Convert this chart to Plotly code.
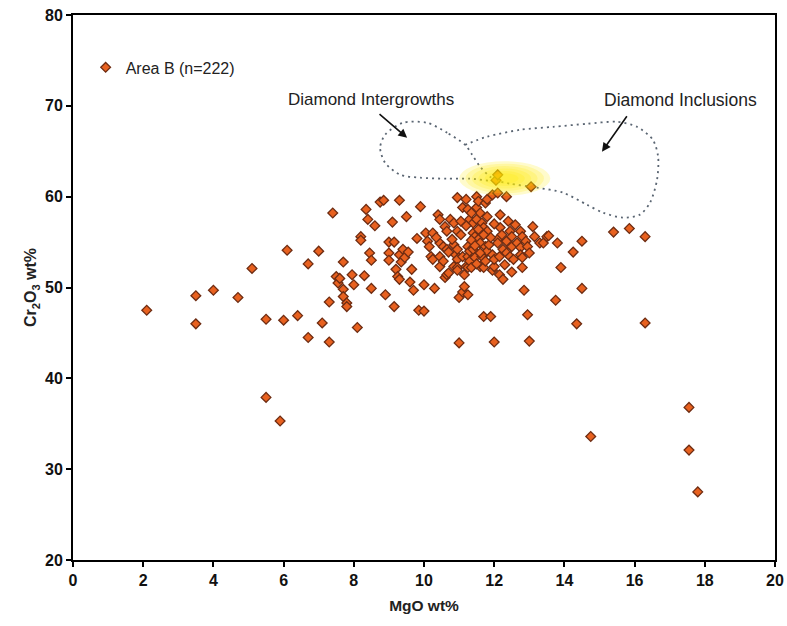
import plotly.graph_objects as go

# ---- Area B spinel analyses (MgO wt%, Cr2O3 wt%) ----
mgo = [
    2.1, 3.5, 3.5, 4.0, 4.7, 5.1, 5.5, 6.0, 6.1, 6.4,
    5.5, 5.9, 6.7, 6.7, 7.0, 7.1, 7.3, 7.3, 7.4, 7.5,
    7.55, 7.6, 7.7, 7.7, 7.7, 7.8, 7.8, 7.95, 8.0, 8.1,
    8.2, 8.2, 8.3, 8.35, 8.4, 8.45, 8.5, 8.5, 8.6, 8.75,
    8.85, 8.9, 9.0, 9.0, 9.0, 9.1, 9.15, 9.15, 9.2, 9.25,
    9.3, 9.3, 9.3, 9.35, 9.4, 9.45, 9.5, 9.55, 9.65, 9.7,
    9.85, 9.9, 10.0, 10.0, 10.05, 10.1, 10.15, 10.2, 10.25, 10.25,
    10.3, 10.4, 10.45, 10.45, 10.45, 10.45, 10.55, 10.55, 10.6, 10.6,
    10.65, 10.65, 10.65, 10.7, 10.75, 10.85, 10.85, 10.85, 10.9, 10.95,
    10.95, 10.95, 10.95, 10.95, 10.95, 11.0, 11.0, 11.05, 11.1, 11.1,
    11.1, 11.15, 11.2, 11.2, 11.25, 11.25, 11.25, 11.25, 11.25, 11.3,
    11.3, 11.3, 11.35, 11.4, 11.4, 11.4, 11.45, 11.45, 11.5, 11.5,
    11.5, 11.55, 11.55, 11.6, 11.6, 11.6, 11.65, 11.65, 11.7, 11.7,
    11.7, 11.75, 11.75, 11.75, 11.8, 11.8, 11.8, 11.85, 11.9, 11.95,
    11.95, 11.95, 12.0, 12.0, 12.0, 12.05, 12.1, 12.1, 12.1, 12.1,
    12.15, 12.15, 12.17, 12.17, 12.22, 12.25, 12.25, 12.35, 12.35, 12.35,
    12.45, 12.45, 12.5, 12.5, 12.5, 12.55, 12.65, 12.75, 12.75, 12.75,
    12.8, 12.8, 12.8, 12.85, 12.9, 12.95, 12.95, 13.0, 13.05, 13.1,
    13.15, 13.3, 13.4, 13.5, 13.55, 13.75, 13.8, 13.9, 14.25, 14.35,
    14.5, 14.5, 14.75, 15.4, 15.85, 16.3, 16.3, 17.55, 17.55, 17.8,
    11.35, 11.55, 11.2, 11.6, 11.9, 11.45, 11.05, 11.7, 10.8, 11.35,
    12.0, 11.5, 12.6, 10.35, 9.8, 12.3, 11.8, 13.0, 10.7, 11.15, 9.6, 12.4,
]
cr2o3 = [
    47.5, 49.1, 46.0, 49.7, 48.9, 52.1, 46.5, 46.4, 54.1, 46.9,
    37.9, 35.3, 44.5, 52.6, 54.0, 46.1, 44.0, 48.4, 58.2, 51.2,
    50.5, 51.0, 52.8, 49.8, 49.0, 48.3, 47.9, 51.4, 50.3, 45.6,
    55.6, 55.2, 51.3, 58.6, 57.5, 53.8, 53.0, 49.9, 56.8, 59.4,
    59.6, 49.2, 55.0, 53.8, 53.0, 57.2, 55.0, 47.9, 52.0, 51.2,
    59.6, 53.6, 50.9, 52.8, 54.2, 53.3, 57.8, 53.9, 52.0, 49.7,
    47.5, 58.9, 47.4, 50.3, 56.0, 55.1, 54.5, 53.4, 53.1, 56.0,
    49.9, 58.0, 57.5, 54.9, 53.4, 52.3, 54.5, 52.9, 56.7, 51.1,
    51.4, 56.2, 54.2, 51.6, 57.5, 57.1, 54.7, 52.3, 53.6, 59.9,
    56.2, 54.2, 53.1, 52.2, 51.9, 48.9, 43.9, 55.8, 53.4, 58.8,
    49.5, 50.1, 59.7, 52.3, 58.6, 54.5, 53.4, 52.2, 49.2, 57.5,
    54.0, 52.9, 52.2, 57.1, 56.0, 54.2, 55.6, 53.3, 60.0, 58.8,
    57.5, 59.5, 55.3, 58.2, 54.9, 52.3, 57.1, 53.4, 56.6, 52.2,
    46.8, 59.3, 54.5, 52.9, 59.7, 56.2, 54.0, 54.7, 46.8, 60.2,
    53.6, 51.9, 44.0, 52.3, 53.1, 61.8, 60.4, 55.3, 62.4, 54.9,
    51.4, 53.4, 58.0, 56.6, 55.8, 54.2, 50.9, 60.0, 55.1, 53.8,
    56.2, 53.4, 55.6, 54.5, 51.7, 53.1, 54.9, 56.2, 54.4, 53.6,
    55.6, 52.2, 53.3, 49.7, 55.1, 54.5, 47.0, 44.1, 61.1, 56.7,
    55.6, 54.9, 54.9, 55.6, 55.7, 48.6, 54.9, 52.2, 53.9, 46.0,
    55.1, 49.9, 33.6, 56.1, 56.5, 55.6, 46.1, 36.8, 32.1, 27.5,
    55.2, 56.4, 56.8, 53.8, 55.5, 54.6, 57.3, 55.8, 55.3, 58.2,
    57.0, 52.6, 56.9, 55.5, 55.4, 52.5, 57.8, 53.8, 53.9, 51.4, 50.6, 57.3,
]

# ---- Reference field outlines ----
intergrowth_mgo = [11.17, 10.66, 10.09, 9.40, 8.89, 8.75, 8.89, 9.32, 9.89, 10.66,
                   11.31, 12.17, 11.88, 11.60, 11.37, 11.17]
intergrowth_cr = [65.71, 67.03, 68.13, 68.13, 66.81, 65.38, 63.74, 62.42, 62.09, 61.98,
                  61.98, 61.65, 62.20, 63.30, 64.62, 65.71]
inclusion_mgo = [11.17, 11.79, 12.74, 13.68, 14.64, 15.50, 16.07, 16.52, 16.67, 16.64,
                 16.44, 16.15, 15.67, 15.10, 14.64, 13.96, 13.22, 12.45, 12.17]
inclusion_cr = [65.71, 66.59, 67.36, 67.69, 68.02, 68.24, 67.69, 66.26, 64.40, 61.87,
                59.34, 58.02, 57.69, 58.24, 59.12, 60.44, 60.99, 61.43, 61.65]

x_ticks = [0, 2, 4, 6, 8, 10, 12, 14, 16, 18, 20]
y_ticks = [20, 30, 40, 50, 60, 70, 80]

FONT = "Arial, 'Liberation Sans', sans-serif"
OUTLINE = "#5a6572"
TEXT = "#222222"

fig = go.Figure()

for xs, ys in ((intergrowth_mgo, intergrowth_cr), (inclusion_mgo, inclusion_cr)):
    fig.add_trace(go.Scatter(
        x=xs, y=ys, mode="lines", showlegend=False, hoverinfo="skip",
        line=dict(color=OUTLINE, width=1.8, dash="2px,4px", shape="spline", smoothing=0.8),
    ))

fig.add_trace(go.Scatter(
    x=mgo, y=cr2o3, mode="markers", name="Area B (n=222)",
    marker=dict(symbol="diamond", size=7.5, color="#e8611f",
                line=dict(color="#6e2c12", width=1.3)),
))

# yellow glow around the high-Cr points
cx, cy, rx, ry = 12.3, 62.0, 1.3, 1.9
for k in (1.0, 0.86, 0.72, 0.58, 0.44, 0.3):
    fig.add_shape(type="circle", xref="x", yref="y",
                  x0=cx - rx * k, x1=cx + rx * k, y0=cy - ry * k, y1=cy + ry * k,
                  line=dict(width=0), fillcolor="rgba(255,236,0,0.2)", layer="above")

# labels and arrows for the reference fields
fig.add_annotation(x=8.49, y=70.66, text="Diamond Intergrowths", showarrow=False,
                   font=dict(family=FONT, size=17, color=TEXT))
fig.add_annotation(x=17.32, y=70.66, text="Diamond Inclusions", showarrow=False,
                   font=dict(family=FONT, size=17.5, color=TEXT))
fig.add_annotation(x=9.52, y=66.48, ax=8.69, ay=69.23, axref="x", ayref="y",
                   text="", showarrow=True, arrowhead=2, arrowsize=1.1,
                   arrowwidth=1.6, arrowcolor="#111111")
fig.add_annotation(x=15.07, y=64.95, ax=15.81, ay=69.01, axref="x", ayref="y",
                   text="", showarrow=True, arrowhead=2, arrowsize=1.1,
                   arrowwidth=1.6, arrowcolor="#111111")

axis_common = dict(
    showgrid=False, zeroline=False, showline=True, linecolor="black", linewidth=2,
    mirror=True, ticks="outside", ticklen=5, tickwidth=2, tickcolor="black",
    automargin=False,
    tickfont=dict(family=FONT, size=16, color="#111111", weight="bold"),
)

fig.update_layout(
    width=787, height=626,
    margin=dict(l=73, r=12, t=15, b=66),
    paper_bgcolor="white", plot_bgcolor="white",
    font=dict(family=FONT),
    xaxis=dict(range=[0, 20], tickvals=x_ticks, ticktext=[str(v) for v in x_ticks],
               title=dict(text="<b>MgO wt%</b>", font=dict(family=FONT, size=15.5, color=TEXT),
                          standoff=12),
               **axis_common),
    yaxis=dict(range=[20, 80], tickvals=y_ticks, ticktext=[str(v) for v in y_ticks],
               title=dict(text="<b>Cr<sub>2</sub>O<sub>3</sub> wt%</b>",
                          font=dict(family=FONT, size=16, color=TEXT), standoff=4),
               **axis_common),
    legend=dict(x=0.018, y=0.935, xanchor="left", yanchor="top",
                bgcolor="rgba(0,0,0,0)", font=dict(family=FONT, size=16, color=TEXT),
                itemwidth=30),
    showlegend=True,
)

fig.write_html("out.html")
